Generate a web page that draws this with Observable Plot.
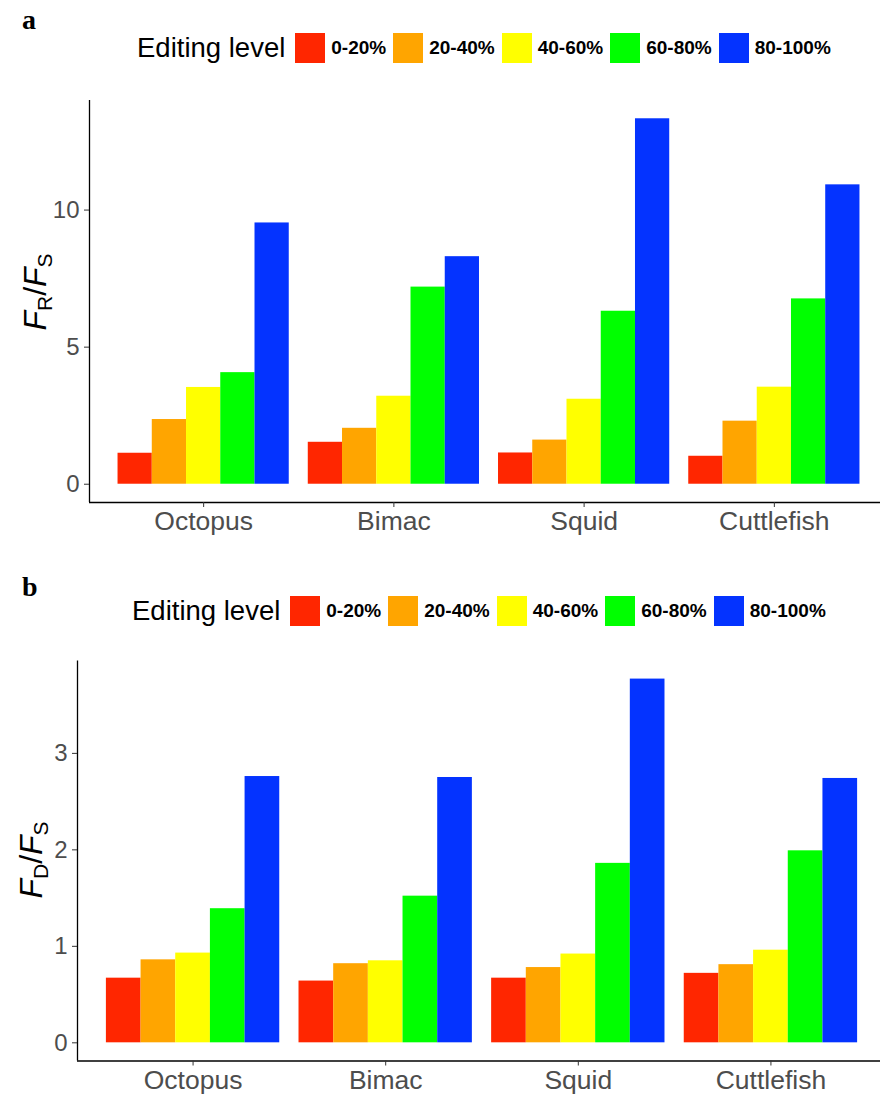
<!DOCTYPE html>
<html><head><meta charset="utf-8">
<script src="https://cdn.jsdelivr.net/npm/d3@7"></script>
<script src="https://cdn.jsdelivr.net/npm/@observablehq/plot@0.6"></script>
<style>
html,body{margin:0;padding:0;background:#fff;}
body{width:880px;height:1097px;overflow:hidden;position:relative;font-family:"Liberation Sans",Arial,sans-serif;}
.panel-label{position:absolute;font-family:"Liberation Serif","Times New Roman",serif;font-weight:bold;font-size:28px;line-height:1;}
.legend{position:absolute;display:flex;align-items:center;height:30px;white-space:nowrap;}
.legend .title{font-size:27.5px;margin-right:10px;color:#000;}
.legend .sw{width:30px;height:30px;margin-right:6px;flex:none;}
.legend .lab{font-family:"Liberation Sans Narrow","Arial Narrow","Liberation Sans",sans-serif;font-weight:bold;font-size:19px;margin-right:7px;color:#000;}
.plot{position:absolute;left:0;}
.plot svg{max-width:none !important;}
</style>
</head>
<body>
<div class="panel-label" style="left:22px;top:6px">a</div>
<div class="legend" id="legA" style="left:137px;top:33px"></div>
<div class="plot" id="plotA" style="top:90px"></div>
<div class="panel-label" style="left:22px;top:573px">b</div>
<div class="legend" id="legB" style="left:132px;top:596px"></div>
<div class="plot" id="plotB" style="top:650px"></div>
<script>
const species = ["Octopus", "Bimac", "Squid", "Cuttlefish"];
const levels = ["0-20%", "20-40%", "40-60%", "60-80%", "80-100%"];
const levelColors = ["#FF2600", "#FFA500", "#FFFF00", "#00FF00", "#0433FF"];
const legendTitle = "Editing level";

// Panel a: F_R / F_S per species, by editing level
const frOctopus    = [1.13, 2.36, 3.53, 4.07, 9.53];
const frBimac      = [1.53, 2.04, 3.21, 7.19, 8.30];
const frSquid      = [1.14, 1.61, 3.10, 6.31, 13.33];
const frCuttlefish = [1.02, 2.30, 3.54, 6.76, 10.92];
const yTicksA = [0, 5, 10];

// Panel b: F_D / F_S per species, by editing level
const fdOctopus    = [0.67, 0.86, 0.93, 1.39, 2.76];
const fdBimac      = [0.64, 0.82, 0.85, 1.52, 2.75];
const fdSquid      = [0.67, 0.78, 0.92, 1.86, 3.77];
const fdCuttlefish = [0.72, 0.81, 0.96, 1.99, 2.74];
const yTicksB = [0, 1, 2, 3];

function buildLegend(el) {
  const t = document.createElement("span");
  t.className = "title"; t.textContent = legendTitle; el.appendChild(t);
  levels.forEach((l, i) => {
    const s = document.createElement("span");
    s.className = "sw"; s.style.background = levelColors[i]; el.appendChild(s);
    const lab = document.createElement("span");
    lab.className = "lab"; lab.textContent = l; el.appendChild(lab);
  });
}

function panel(series, yTicks, opts) {
  const rows = [];
  series.forEach((vals, si) => vals.forEach((v, li) => {
    // ggplot-style dodge: bar group width 0.9 per category, 5 bars
    const x1 = si + 1 - 0.45 + li * 0.18;
    rows.push({species: species[si], level: levels[li], value: v, x1, x2: x1 + 0.18});
  }));
  const maxV = d3.max(rows, d => d.value);
  const yDomain = [-0.05 * maxV, 1.05 * maxV];
  const p = Plot.plot({
    width: 900,
    height: opts.height,
    marginLeft: opts.marginLeft,
    marginRight: 900 - opts.frameRight,
    marginTop: opts.marginTop,
    marginBottom: opts.marginBottom,
    style: {fontFamily: "Liberation Sans, Arial, sans-serif", background: "white", overflow: "visible", maxWidth: "none"},
    x: {type: "linear", domain: [0.4, 4.6]},
    y: {domain: yDomain},
    color: {domain: levels, range: levelColors},
    marks: [
      Plot.rectY(rows, {x1: "x1", x2: "x2", y1: 0, y2: "value", fill: "level"}),
      Plot.ruleX([0.4], {stroke: "#000", strokeWidth: 1.3}),
      Plot.ruleY([yDomain[0]], {stroke: "#000", strokeWidth: 1.3}),
      Plot.axisX({ticks: [1, 2, 3, 4], tickFormat: d => species[d - 1], tickSize: 5, tickPadding: 4,
        fontSize: 26.5, stroke: "#333", fill: "#4d4d4d", label: null}),
      Plot.axisY({ticks: yTicks, tickFormat: d => String(d), tickSize: 5, tickPadding: 5, fontSize: 24,
        stroke: "#333", fill: "#4d4d4d", label: null})
    ]
  });
  const svg = d3.select(p);
  const t = svg.append("text")
    .attr("transform", `translate(${opts.titleX},${opts.titleY}) rotate(-90)`)
    .attr("text-anchor", "middle")
    .attr("fill", "#000")
    .style("font-size", "32px")
    .style("font-family", "Liberation Sans, Arial, sans-serif");
  t.append("tspan").attr("font-style", "italic").text("F");
  t.append("tspan").attr("font-size", "21px").attr("dy", 6).text(opts.sub);
  t.append("tspan").attr("dy", -6).text("/");
  t.append("tspan").attr("font-style", "italic").text("F");
  t.append("tspan").attr("font-size", "21px").attr("dy", 6).text("S");
  return p;
}

buildLegend(document.getElementById("legA"));
buildLegend(document.getElementById("legB"));

document.getElementById("plotA").appendChild(panel(
  [frOctopus, frBimac, frSquid, frCuttlefish], yTicksA,
  {height: 457, marginLeft: 89, frameRight: 888, marginTop: 10, marginBottom: 45, titleX: 46, titleY: 202, sub: "R"}
));
document.getElementById("plotB").appendChild(panel(
  [fdOctopus, fdBimac, fdSquid, fdCuttlefish], yTicksB,
  {height: 447, marginLeft: 77, frameRight: 886, marginTop: 10.4, marginBottom: 36.5, titleX: 42, titleY: 210, sub: "D"}
));
</script>
</body></html>
